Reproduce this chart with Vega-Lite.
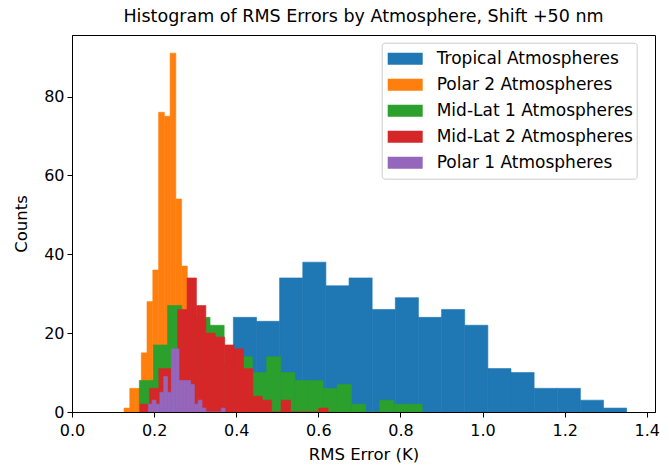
{
  "$schema": "https://vega.github.io/schema/vega-lite/v6.json",
  "width": 583,
  "height": 377,
  "autosize": {"type": "none"},
  "padding": {"left": 72, "top": 35, "right": 14, "bottom": 61},
  "title": {"text": "Histogram of RMS Errors by Atmosphere, Shift +50 nm", "font": "DejaVu Sans", "fontSize": 17.5, "fontWeight": "normal", "color": "#000000", "anchor": "middle", "offset": 10},
  "data": {"values": [
    {"atm": "Tropical Atmospheres", "lo": 0.3930, "hi": 0.4494, "count": 24},
    {"atm": "Tropical Atmospheres", "lo": 0.4494, "hi": 0.5057, "count": 23},
    {"atm": "Tropical Atmospheres", "lo": 0.5057, "hi": 0.5621, "count": 34},
    {"atm": "Tropical Atmospheres", "lo": 0.5621, "hi": 0.6184, "count": 38},
    {"atm": "Tropical Atmospheres", "lo": 0.6184, "hi": 0.6748, "count": 32},
    {"atm": "Tropical Atmospheres", "lo": 0.6748, "hi": 0.7311, "count": 34},
    {"atm": "Tropical Atmospheres", "lo": 0.7311, "hi": 0.7875, "count": 26},
    {"atm": "Tropical Atmospheres", "lo": 0.7875, "hi": 0.8438, "count": 29},
    {"atm": "Tropical Atmospheres", "lo": 0.8438, "hi": 0.9002, "count": 24},
    {"atm": "Tropical Atmospheres", "lo": 0.9002, "hi": 0.9565, "count": 26},
    {"atm": "Tropical Atmospheres", "lo": 0.9565, "hi": 1.0129, "count": 22},
    {"atm": "Tropical Atmospheres", "lo": 1.0129, "hi": 1.0692, "count": 11},
    {"atm": "Tropical Atmospheres", "lo": 1.0692, "hi": 1.1256, "count": 10},
    {"atm": "Tropical Atmospheres", "lo": 1.1256, "hi": 1.1819, "count": 6},
    {"atm": "Tropical Atmospheres", "lo": 1.1819, "hi": 1.2383, "count": 6},
    {"atm": "Tropical Atmospheres", "lo": 1.2383, "hi": 1.2946, "count": 3},
    {"atm": "Tropical Atmospheres", "lo": 1.2946, "hi": 1.3510, "count": 1},
    {"atm": "Polar 2 Atmospheres", "lo": 0.1267, "hi": 0.1407, "count": 1},
    {"atm": "Polar 2 Atmospheres", "lo": 0.1407, "hi": 0.1547, "count": 6},
    {"atm": "Polar 2 Atmospheres", "lo": 0.1547, "hi": 0.1688, "count": 6},
    {"atm": "Polar 2 Atmospheres", "lo": 0.1688, "hi": 0.1827, "count": 15},
    {"atm": "Polar 2 Atmospheres", "lo": 0.1827, "hi": 0.1968, "count": 28},
    {"atm": "Polar 2 Atmospheres", "lo": 0.1968, "hi": 0.2110, "count": 36},
    {"atm": "Polar 2 Atmospheres", "lo": 0.2110, "hi": 0.2248, "count": 76},
    {"atm": "Polar 2 Atmospheres", "lo": 0.2248, "hi": 0.2390, "count": 75},
    {"atm": "Polar 2 Atmospheres", "lo": 0.2390, "hi": 0.2529, "count": 91},
    {"atm": "Polar 2 Atmospheres", "lo": 0.2529, "hi": 0.2670, "count": 54},
    {"atm": "Polar 2 Atmospheres", "lo": 0.2670, "hi": 0.2809, "count": 37},
    {"atm": "Mid-Lat 1 Atmospheres", "lo": 0.1639, "hi": 0.1984, "count": 8},
    {"atm": "Mid-Lat 1 Atmospheres", "lo": 0.1984, "hi": 0.2328, "count": 17},
    {"atm": "Mid-Lat 1 Atmospheres", "lo": 0.2328, "hi": 0.2673, "count": 27},
    {"atm": "Mid-Lat 1 Atmospheres", "lo": 0.2673, "hi": 0.3017, "count": 22},
    {"atm": "Mid-Lat 1 Atmospheres", "lo": 0.3017, "hi": 0.3362, "count": 24},
    {"atm": "Mid-Lat 1 Atmospheres", "lo": 0.3362, "hi": 0.3706, "count": 22},
    {"atm": "Mid-Lat 1 Atmospheres", "lo": 0.3706, "hi": 0.4051, "count": 12},
    {"atm": "Mid-Lat 1 Atmospheres", "lo": 0.4051, "hi": 0.4395, "count": 14},
    {"atm": "Mid-Lat 1 Atmospheres", "lo": 0.4395, "hi": 0.4740, "count": 10},
    {"atm": "Mid-Lat 1 Atmospheres", "lo": 0.4740, "hi": 0.5084, "count": 14},
    {"atm": "Mid-Lat 1 Atmospheres", "lo": 0.5084, "hi": 0.5429, "count": 10},
    {"atm": "Mid-Lat 1 Atmospheres", "lo": 0.5429, "hi": 0.5773, "count": 8},
    {"atm": "Mid-Lat 1 Atmospheres", "lo": 0.5773, "hi": 0.6118, "count": 8},
    {"atm": "Mid-Lat 1 Atmospheres", "lo": 0.6118, "hi": 0.6462, "count": 6},
    {"atm": "Mid-Lat 1 Atmospheres", "lo": 0.6462, "hi": 0.6807, "count": 7},
    {"atm": "Mid-Lat 1 Atmospheres", "lo": 0.6807, "hi": 0.7151, "count": 2},
    {"atm": "Mid-Lat 1 Atmospheres", "lo": 0.7151, "hi": 0.7496, "count": 0},
    {"atm": "Mid-Lat 1 Atmospheres", "lo": 0.7496, "hi": 0.7840, "count": 3},
    {"atm": "Mid-Lat 1 Atmospheres", "lo": 0.7840, "hi": 0.8185, "count": 2},
    {"atm": "Mid-Lat 1 Atmospheres", "lo": 0.8185, "hi": 0.8529, "count": 2},
    {"atm": "Mid-Lat 2 Atmospheres", "lo": 0.1657, "hi": 0.1886, "count": 2},
    {"atm": "Mid-Lat 2 Atmospheres", "lo": 0.1886, "hi": 0.2115, "count": 6},
    {"atm": "Mid-Lat 2 Atmospheres", "lo": 0.2115, "hi": 0.2344, "count": 11},
    {"atm": "Mid-Lat 2 Atmospheres", "lo": 0.2344, "hi": 0.2573, "count": 11},
    {"atm": "Mid-Lat 2 Atmospheres", "lo": 0.2573, "hi": 0.2802, "count": 26},
    {"atm": "Mid-Lat 2 Atmospheres", "lo": 0.2802, "hi": 0.3031, "count": 34},
    {"atm": "Mid-Lat 2 Atmospheres", "lo": 0.3031, "hi": 0.3260, "count": 27},
    {"atm": "Mid-Lat 2 Atmospheres", "lo": 0.3260, "hi": 0.3489, "count": 20},
    {"atm": "Mid-Lat 2 Atmospheres", "lo": 0.3489, "hi": 0.3718, "count": 19},
    {"atm": "Mid-Lat 2 Atmospheres", "lo": 0.3718, "hi": 0.3947, "count": 17},
    {"atm": "Mid-Lat 2 Atmospheres", "lo": 0.3947, "hi": 0.4176, "count": 16},
    {"atm": "Mid-Lat 2 Atmospheres", "lo": 0.4176, "hi": 0.4405, "count": 11},
    {"atm": "Mid-Lat 2 Atmospheres", "lo": 0.4405, "hi": 0.4634, "count": 4},
    {"atm": "Mid-Lat 2 Atmospheres", "lo": 0.4634, "hi": 0.4863, "count": 3},
    {"atm": "Mid-Lat 2 Atmospheres", "lo": 0.4863, "hi": 0.5092, "count": 0},
    {"atm": "Mid-Lat 2 Atmospheres", "lo": 0.5092, "hi": 0.5321, "count": 3},
    {"atm": "Mid-Lat 2 Atmospheres", "lo": 0.5321, "hi": 0.5550, "count": 0},
    {"atm": "Mid-Lat 2 Atmospheres", "lo": 0.5550, "hi": 0.5779, "count": 0},
    {"atm": "Mid-Lat 2 Atmospheres", "lo": 0.5779, "hi": 0.6008, "count": 0},
    {"atm": "Mid-Lat 2 Atmospheres", "lo": 0.6008, "hi": 0.6237, "count": 1},
    {"atm": "Polar 1 Atmospheres", "lo": 0.18590, "hi": 0.19525, "count": 2},
    {"atm": "Polar 1 Atmospheres", "lo": 0.19525, "hi": 0.20460, "count": 3},
    {"atm": "Polar 1 Atmospheres", "lo": 0.20460, "hi": 0.21395, "count": 2},
    {"atm": "Polar 1 Atmospheres", "lo": 0.21395, "hi": 0.22330, "count": 5},
    {"atm": "Polar 1 Atmospheres", "lo": 0.22330, "hi": 0.23265, "count": 9},
    {"atm": "Polar 1 Atmospheres", "lo": 0.23265, "hi": 0.24200, "count": 5},
    {"atm": "Polar 1 Atmospheres", "lo": 0.24200, "hi": 0.25135, "count": 16},
    {"atm": "Polar 1 Atmospheres", "lo": 0.25135, "hi": 0.26070, "count": 16},
    {"atm": "Polar 1 Atmospheres", "lo": 0.26070, "hi": 0.27005, "count": 8},
    {"atm": "Polar 1 Atmospheres", "lo": 0.27005, "hi": 0.27940, "count": 8},
    {"atm": "Polar 1 Atmospheres", "lo": 0.27940, "hi": 0.28875, "count": 8},
    {"atm": "Polar 1 Atmospheres", "lo": 0.28875, "hi": 0.29810, "count": 7},
    {"atm": "Polar 1 Atmospheres", "lo": 0.29810, "hi": 0.30745, "count": 2},
    {"atm": "Polar 1 Atmospheres", "lo": 0.30745, "hi": 0.31680, "count": 3},
    {"atm": "Polar 1 Atmospheres", "lo": 0.31680, "hi": 0.32615, "count": 1},
    {"atm": "Polar 1 Atmospheres", "lo": 0.32615, "hi": 0.33550, "count": 0},
    {"atm": "Polar 1 Atmospheres", "lo": 0.33550, "hi": 0.34485, "count": 0},
    {"atm": "Polar 1 Atmospheres", "lo": 0.34485, "hi": 0.35420, "count": 0},
    {"atm": "Polar 1 Atmospheres", "lo": 0.35420, "hi": 0.36355, "count": 0},
    {"atm": "Polar 1 Atmospheres", "lo": 0.36355, "hi": 0.37290, "count": 1}
  ]},
  "mark": {"type": "bar", "strokeWidth": 0.6, "clip": true},
  "encoding": {
    "x": {"field": "lo", "type": "quantitative", "title": "RMS Error (K)",
          "scale": {"domain": [0, 1.42], "nice": false, "zero": false, "padding": 0},
          "axis": {"values": [0, 0.2, 0.4, 0.6, 0.8, 1.0, 1.2, 1.4], "format": ".1f", "labelFlush": false, "labelOverlap": false}},
    "x2": {"field": "hi"},
    "y": {"field": "count", "type": "quantitative", "title": "Counts", "stack": null,
          "scale": {"domain": [0, 95.6], "nice": false, "padding": 0},
          "axis": {"values": [0, 20, 40, 60, 80], "labelFlush": false, "labelOverlap": false}},
    "y2": {"datum": 0},
    "color": {"field": "atm", "type": "nominal",
              "scale": {"domain": ["Tropical Atmospheres", "Polar 2 Atmospheres", "Mid-Lat 1 Atmospheres", "Mid-Lat 2 Atmospheres", "Polar 1 Atmospheres"],
                        "range": ["#1f77b4", "#ff7f0e", "#2ca02c", "#d62728", "#9467bd"]},
              "legend": {"title": null, "orient": "none", "legendX": 309.7, "legendY": 7.7,
                         "padding": 3, "symbolOffset": 3, "labelOffset": 14,
                         "symbolType": "M-1,-0.343H1V0.343H-1Z", "symbolSize": 1225, "symbolStrokeWidth": 0,
                         "clipHeight": 26, "rowPadding": 0,
                         "labelFont": "DejaVu Sans", "labelFontSize": 17, "labelColor": "#000000", "labelLimit": 400,
                         "fillColor": "rgba(255,255,255,0.8)", "strokeColor": "#cccccc", "cornerRadius": 3}},
    "stroke": {"field": "atm", "type": "nominal", "legend": null,
               "scale": {"domain": ["Tropical Atmospheres", "Polar 2 Atmospheres", "Mid-Lat 1 Atmospheres", "Mid-Lat 2 Atmospheres", "Polar 1 Atmospheres"],
                         "range": ["#1f77b4", "#ff7f0e", "#2ca02c", "#d62728", "#9467bd"]}}
  },
  "config": {
    "font": "DejaVu Sans",
    "view": {"stroke": "#000000", "strokeWidth": 1},
    "axis": {"grid": false, "domainColor": "#000000", "tickColor": "#000000", "labelColor": "#000000", "titleColor": "#000000",
             "labelFont": "DejaVu Sans", "titleFont": "DejaVu Sans", "labelFontSize": 16, "titleFontSize": 16.5, "titleFontWeight": "normal",
             "tickSize": 5, "domainWidth": 1, "tickWidth": 1},
    "axisX": {"titlePadding": 8, "labelPadding": 5},
    "axisY": {"titlePadding": 14, "labelPadding": 3}
  }
}
